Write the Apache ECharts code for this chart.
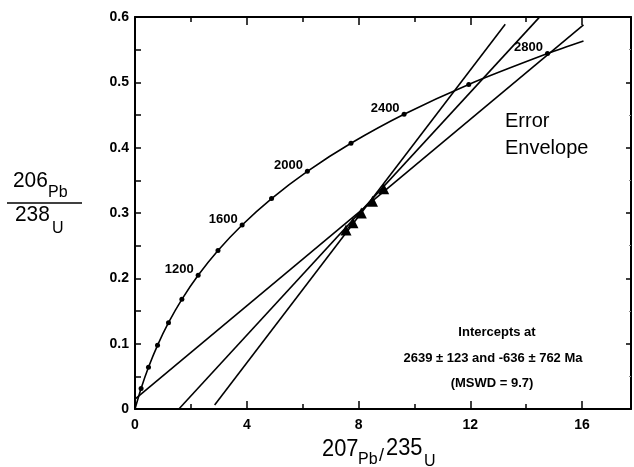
<!DOCTYPE html>
<html>
<head>
<meta charset="utf-8">
<script src="https://cdn.jsdelivr.net/npm/echarts@6/dist/echarts.min.js"></script>
<style>
  html, body { margin: 0; padding: 0; background: #fff; }
  #chart { width: 634px; height: 467px; }
</style>
</head>
<body>
<div id="chart"></div>
<script>
// concordia ages (Ma) and ratios at each dot
const concordiaAges = [0, 200, 400, 600, 800, 1000, 1200, 1400, 1600, 1800, 2000, 2200, 2400, 2600, 2800];
const concordiaX = [0, 0.2177, 0.4828, 0.8056, 1.1987, 1.6774, 2.2603, 2.9701, 3.8344, 4.8869, 6.1685, 7.7291, 9.6296, 11.9437, 14.7617];
const concordiaY = [0, 0.0315, 0.0640, 0.0975, 0.1321, 0.1678, 0.2046, 0.2426, 0.2817, 0.3221, 0.3638, 0.4067, 0.4511, 0.4968, 0.5440];
const concordiaEnd = [16.05, 0.5633];
const labelledAges = [1200, 1600, 2000, 2400, 2800];

// discordia and error envelope lines
const discordiaX = [1.57, 14.46];
const discordiaY = [0, 0.599];
const envelopeAX = [0, 16.05];
const envelopeAY = [0.015, 0.588];
const envelopeBX = [2.85, 13.25];
const envelopeBY = [0.006, 0.589];

// measured data points
const pointsX = [7.55, 7.8, 8.1, 8.5, 8.9];
const pointsY = [0.274, 0.285, 0.300, 0.318, 0.337];

const xTicks = [0, 4, 8, 12, 16];

const font = 'Liberation Sans, Arial, sans-serif';
const black = '#000';

const chart = echarts.init(document.getElementById('chart'));

function pairs(xs, ys) {
  return xs.map((x, i) => [x, ys[i]]);
}

const curveData = pairs(concordiaX, concordiaY).concat([concordiaEnd]);
const dotData = concordiaX.slice(1).map((x, i) => {
  const age = concordiaAges[i + 1];
  return {
    value: [x, concordiaY[i + 1]],
    label: { show: labelledAges.indexOf(age) >= 0, formatter: String(age) }
  };
});

const lineStyle = { color: black, width: 1.6 };

const option = {
  animation: false,
  backgroundColor: '#fff',
  grid: { left: 135, right: 2, top: 17, bottom: 58 },
  xAxis: [
    {
      type: 'value', min: 0, max: 17.75, interval: 4, position: 'bottom',
      axisLine: { show: true, onZero: false, lineStyle: { color: black, width: 2 } },
      axisTick: { show: true, inside: true, length: 8, lineStyle: { color: black, width: 1.5 } },
      minorTick: { show: true, splitNumber: 2, length: 5, lineStyle: { color: black, width: 1.5 } },
      axisLabel: {
        color: black, fontFamily: font, fontWeight: 'bold', fontSize: 14, margin: 9,
        formatter: v => (xTicks.indexOf(v) >= 0 ? String(v) : '')
      },
      splitLine: { show: false }
    },
    {
      type: 'value', min: 0, max: 17.75, interval: 4, position: 'top',
      axisLine: { show: true, onZero: false, lineStyle: { color: black, width: 2 } },
      axisTick: { show: true, inside: true, length: 8, lineStyle: { color: black, width: 1.5 } },
      minorTick: { show: true, splitNumber: 2, length: 5, lineStyle: { color: black, width: 1.5 } },
      axisLabel: { show: false },
      splitLine: { show: false }
    }
  ],
  yAxis: [
    {
      type: 'value', min: 0, max: 0.6, interval: 0.1, position: 'left',
      axisLine: { show: true, onZero: false, lineStyle: { color: black, width: 2 } },
      axisTick: { show: true, inside: true, length: 6, lineStyle: { color: black, width: 1.5 } },
      minorTick: { show: true, splitNumber: 2, length: 6, lineStyle: { color: black, width: 1.5 } },
      axisLabel: {
        color: black, fontFamily: font, fontWeight: 'bold', fontSize: 14, margin: 6,
        formatter: v => (v === 0 ? '0' : v.toFixed(1))
      },
      splitLine: { show: false }
    },
    {
      type: 'value', min: 0, max: 0.6, interval: 0.1, position: 'right',
      axisLine: { show: true, onZero: false, lineStyle: { color: black, width: 2 } },
      axisTick: { show: true, inside: true, length: 5, lineStyle: { color: black, width: 1.5 } },
      minorTick: { show: true, splitNumber: 2, length: 2, lineStyle: { color: '#888', width: 1 } },
      axisLabel: { show: false },
      splitLine: { show: false }
    }
  ],
  series: [
    {
      name: 'concordia', type: 'line', data: curveData, smooth: 0.3,
      symbol: 'none', lineStyle: lineStyle, z: 3
    },
    {
      name: 'ages', type: 'scatter', data: dotData, symbol: 'circle', symbolSize: 5,
      itemStyle: { color: black, opacity: 1 },
      label: {
        position: 'left', distance: 2, offset: [0, -6], opacity: 1,
        color: black, textBorderWidth: 0, fontFamily: font, fontWeight: 'bold', fontSize: 13
      },
      z: 4
    },
    {
      name: 'discordia', type: 'line', data: pairs(discordiaX, discordiaY),
      symbol: 'none', lineStyle: lineStyle
    },
    {
      name: 'envelopeA', type: 'line', data: pairs(envelopeAX, envelopeAY),
      symbol: 'none', lineStyle: lineStyle
    },
    {
      name: 'envelopeB', type: 'line', data: pairs(envelopeBX, envelopeBY),
      symbol: 'none', lineStyle: lineStyle
    },
    {
      name: 'points', type: 'scatter', data: pairs(pointsX, pointsY),
      symbol: 'triangle', symbolSize: 11, itemStyle: { color: black, opacity: 1 }, z: 5
    }
  ],
  graphic: [
    // y axis title as a fraction
    { type: 'text', x: 13, y: 192, scaleX: 0.95, style: { text: '206', font: '22px ' + font, fill: black, textVerticalAlign: 'bottom' } },
    { type: 'text', x: 48, y: 201, style: { text: 'Pb', font: '16px ' + font, fill: black, textVerticalAlign: 'bottom' } },
    { type: 'line', shape: { x1: 7, y1: 203, x2: 82, y2: 203 }, style: { stroke: black, lineWidth: 1.5 } },
    { type: 'text', x: 15, y: 226, scaleX: 0.95, style: { text: '238', font: '22px ' + font, fill: black, textVerticalAlign: 'bottom' } },
    { type: 'text', x: 52, y: 237, style: { text: 'U', font: '16px ' + font, fill: black, textVerticalAlign: 'bottom' } },
    // x axis title
    { type: 'text', x: 322, y: 461, scaleX: 0.95, style: { text: '207', font: '23px ' + font, fill: black, textVerticalAlign: 'bottom' } },
    { type: 'text', x: 358, y: 468, style: { text: 'Pb', font: '16px ' + font, fill: black, textVerticalAlign: 'bottom' } },
    { type: 'text', x: 379, y: 465, style: { text: '/', font: '18px ' + font, fill: black, textVerticalAlign: 'bottom' } },
    { type: 'text', x: 386, y: 460, scaleX: 0.95, style: { text: '235', font: '23px ' + font, fill: black, textVerticalAlign: 'bottom' } },
    { type: 'text', x: 424, y: 470, style: { text: 'U', font: '16px ' + font, fill: black, textVerticalAlign: 'bottom' } },
    // annotations
    { type: 'text', x: 505, y: 121, style: { text: 'Error', font: '20px ' + font, fill: black, textVerticalAlign: 'middle' } },
    { type: 'text', x: 505, y: 148, style: { text: 'Envelope', font: '20px ' + font, fill: black, textVerticalAlign: 'middle' } },
    { type: 'text', x: 497, y: 332, style: { text: 'Intercepts at', font: 'bold 13px ' + font, fill: black, textAlign: 'center', textVerticalAlign: 'middle' } },
    { type: 'text', x: 493, y: 358, style: { text: '2639 \u00b1 123 and -636 \u00b1 762 Ma', font: 'bold 13px ' + font, fill: black, textAlign: 'center', textVerticalAlign: 'middle' } },
    { type: 'text', x: 492, y: 383, style: { text: '(MSWD = 9.7)', font: 'bold 13px ' + font, fill: black, textAlign: 'center', textVerticalAlign: 'middle' } }
  ]
};

chart.setOption(option);
</script>
</body>
</html>
